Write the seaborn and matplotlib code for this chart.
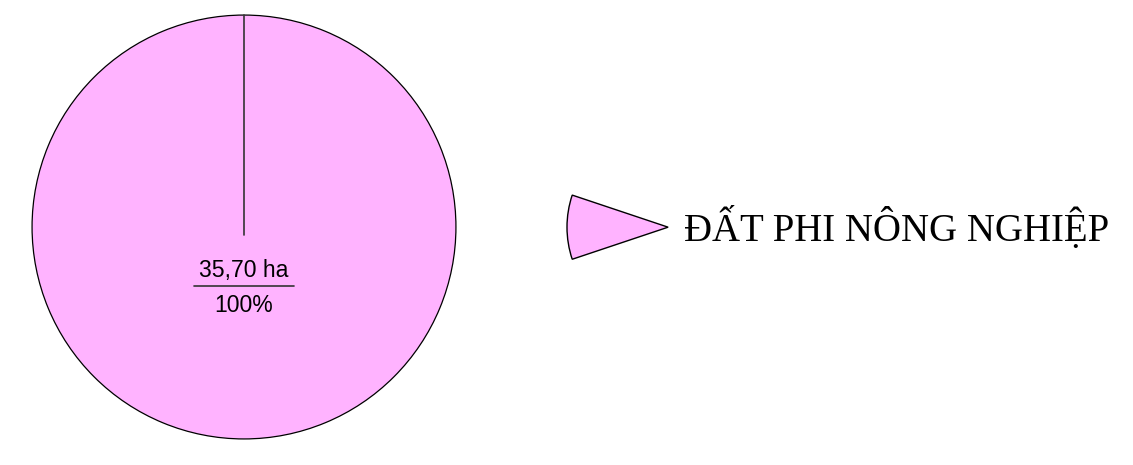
import matplotlib
matplotlib.use('Agg')
import matplotlib.pyplot as plt
from matplotlib.patches import Wedge
from matplotlib.legend_handler import HandlerBase
import seaborn as sns

# ── DATA ──────────────────────────────────────────────────
categories = ['ĐẤT PHI NÔNG NGHIỆP']
areas_ha = [35.70]
colors = ['#FFB3FF']

sns.set_theme(style='white')
plt.rcParams['font.family'] = ['Liberation Sans', 'DejaVu Sans']

W, H = 1133, 465
fig = plt.figure(figsize=(W / 100, H / 100), dpi=100)
fig.patch.set_facecolor('white')

# pie axes placed so the circle spans x 31..457, y 14..440 (pixels)
ax = fig.add_axes([31 / W, 1 - 440 / H, 426 / W, 426 / H])
wedges, _ = ax.pie(areas_ha, colors=colors, startangle=90, counterclock=False,
                   radius=1.0, wedgeprops={'edgecolor': 'black', 'linewidth': 0.9})
ax.set_xlim(-1.005, 1.005)
ax.set_ylim(-1.005, 1.005)
ax.set_aspect('equal')
ax.axis('off')

# start-of-slice line (single 100% slice)
ax.plot([0, 0], [1, -0.04], color='#333333', linewidth=1.2)

total = sum(areas_ha)
for a in areas_ha:
    ax.text(0, -0.205, f"{a:.2f}".replace('.', ',') + ' ha', ha='center', va='center',
            fontsize=16.6, color='black')
    ax.plot([-0.236, 0.236], [-0.28, -0.28], color='#333333', linewidth=1.2)
    ax.text(0, -0.37, f"{a / total * 100:.0f}%", ha='center', va='center',
            fontsize=16.6, color='black')


class HandlerPieSlice(HandlerBase):
    def create_artists(self, legend, orig_handle, xdescent, ydescent,
                       width, height, fontsize, trans):
        cx = width - xdescent
        cy = height / 2 - ydescent
        w = Wedge((cx, cy), width, 161.5, 198.5,
                  facecolor=orig_handle.get_facecolor(), edgecolor='black',
                  linewidth=1.0, transform=trans)
        return [w]


leg = fig.legend(wedges, categories, loc='center left',
                 bbox_to_anchor=(567 / W, 1 - 228 / H),
                 handler_map={Wedge: HandlerPieSlice()},
                 handlelength=2.6, handleheight=1.0, handletextpad=0.42,
                 frameon=False, borderpad=0, borderaxespad=0, labelcolor='black',
                 prop={'family': ['Liberation Serif', 'DejaVu Serif'], 'size': 28})

plt.savefig('out.png', dpi=100, facecolor='white')
